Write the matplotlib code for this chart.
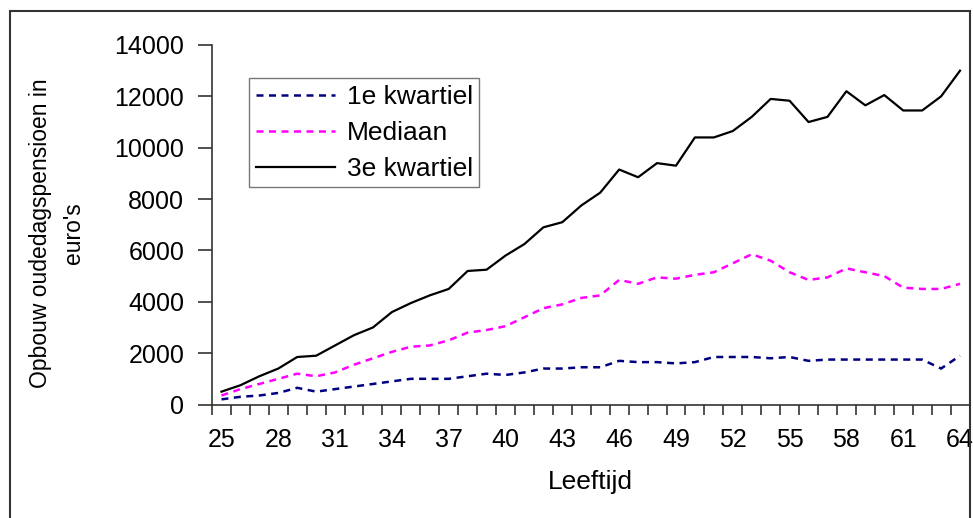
import matplotlib
matplotlib.use('Agg')
from matplotlib import pyplot as plt
from matplotlib.patches import Rectangle
import numpy as np

plt.rcParams['font.family'] = ['Liberation Sans', 'DejaVu Sans']

# Data
leeftijd = list(range(25, 65))

kwartiel_1 = [200, 300, 350, 450, 650, 500, 600, 700, 800, 900,
              1000, 1000, 1000, 1100, 1200, 1150, 1250, 1400, 1400, 1450,
              1450, 1700, 1650, 1650, 1600, 1650, 1850, 1850, 1850, 1800,
              1850, 1700, 1750, 1750, 1750, 1750, 1750, 1750, 1400, 1900]

mediaan = [350, 600, 800, 1000, 1200, 1100, 1250, 1550, 1800, 2050,
           2250, 2300, 2500, 2800, 2900, 3050, 3400, 3750, 3900, 4150,
           4250, 4850, 4700, 4950, 4900, 5050, 5150, 5500, 5850, 5600,
           5150, 4850, 4950, 5300, 5150, 5000, 4550, 4500, 4500, 4700]

kwartiel_3 = [500, 750, 1100, 1400, 1850, 1900, 2300, 2700, 3000, 3600,
              3950, 4250, 4500, 5200, 5250, 5800, 6250, 6900, 7100, 7750,
              8250, 9150, 8850, 9400, 9300, 10400, 10400, 10650, 11200, 11900,
              11830, 11000, 11200, 12200, 11650, 12050, 11450, 11450, 12000, 13000]

series_labels = ['1e kwartiel', 'Mediaan', '3e kwartiel']

fig = plt.figure(figsize=(9.73, 5.18), dpi=100)
ax = fig.add_axes([212 / 973, 113.5 / 518, 757.5 / 973, 359.5 / 518])

ax.plot(leeftijd, kwartiel_1, color='#000080', lw=1.8, dashes=(2.8, 2.2), label=series_labels[0])
ax.plot(leeftijd, mediaan, color='#FF00FF', lw=1.8, dashes=(2.8, 2.2), label=series_labels[1])
ax.plot(leeftijd, kwartiel_3, color='black', lw=1.6, label=series_labels[2])

ax.set_xlim(24.5, 64.5)
ax.set_ylim(0, 14000)
ax.set_yticks(np.arange(0, 14001, 2000))
ax.set_xticks(leeftijd[::3])
ax.set_xticks(np.arange(24.5, 65, 1), minor=True)

for side in ['top', 'right']:
    ax.spines[side].set_visible(False)
for side in ['left', 'bottom']:
    ax.spines[side].set_color('#333333')
    ax.spines[side].set_linewidth(1.2)

ax.tick_params(axis='y', length=10, width=1.2, color='#333333', labelsize=18, pad=10)
ax.tick_params(axis='x', which='major', length=0, labelsize=18, pad=17)
ax.tick_params(axis='x', which='minor', length=7, width=1.2, color='#333333')

leg = ax.legend(loc='upper left', bbox_to_anchor=(37 / 757.5, 1 - 33.5 / 359.5),
                fontsize=19, frameon=True, fancybox=False, handlelength=3.0,
                borderpad=0.25, labelspacing=0.45, handletextpad=0.45, borderaxespad=0)
leg.get_frame().set_edgecolor('#555555')
leg.get_frame().set_linewidth(1.0)

fig.text(57 / 973, 1 - 233 / 518, "Opbouw oudedagspensioen in\neuro's", rotation=90,
         ha='center', va='center', multialignment='center', fontsize=16.5, linespacing=1.6)
fig.text(590 / 973, 1 - 482 / 518, 'Leeftijd', ha='center', va='center', fontsize=19)

# Outer chart border
fig.patches.append(Rectangle((10 / 973, -0.02), 960 / 973, 1 - 11 / 518 + 0.02,
                             transform=fig.transFigure, fill=False,
                             edgecolor='#333333', linewidth=1.5))

fig.savefig('out.png', dpi=100)
